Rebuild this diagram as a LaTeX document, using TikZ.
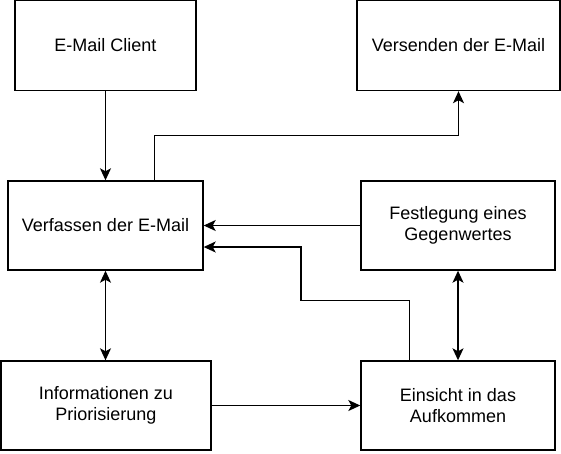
\documentclass[tikz,border=0pt]{standalone}
\usepackage{fontspec}
\setmainfont{Liberation Sans}
\usetikzlibrary{arrows.meta}

\begin{document}
\begin{tikzpicture}[x=1pt, y=-1pt,
		box/.style = {draw, line width = 1.4pt, align = center, inner sep = 0pt,
			font = \fontsize{18}{21.6}\selectfont},
		link/.style = {line width = 1.4pt, -{Stealth[length = 12pt, width = 11pt, inset = 3pt]}},
		dlink/.style = {line width = 1.4pt,
			{Stealth[length = 12pt, width = 11pt, inset = 3pt]}-{Stealth[length = 12pt, width = 11pt, inset = 3pt]}}]
	\useasboundingbox (0,0) rectangle (561,453);

	\begin{scope}
		\node [box, minimum width = 181pt, minimum height = 90pt] (client) at (105.5,45.5) {E-Mail Client};
		\node [box, minimum width = 203pt, minimum height = 90pt] (versenden) at (458.5,45.5) {Versenden der E-Mail};
		\node [box, minimum width = 195pt, minimum height = 89pt] (verfassen) at (105.5,225.5) {Verfassen der E-Mail};
		\node [box, minimum width = 194pt, minimum height = 89pt] (festlegung) at (458,225.5) {Festlegung eines\\Gegenwertes};
		\node [box, minimum width = 210pt, minimum height = 89pt] (info) at (105.8,405.5) {Informationen zu\\Priorisierung};
		\node [box, minimum width = 194pt, minimum height = 89pt] (einsicht) at (458,405.5) {Einsicht in das\\Aufkommen};
	\end{scope}

	\begin{scope}
		\coordinate (bend) at (301,300.5);
		\draw [link] (client) -- (verfassen);
		\draw [link] ([xshift = 49pt]verfassen.north) -- ++(0,-45) -| (versenden.south);
		\draw [link] (festlegung.west) -- (verfassen.east);
		\draw [link] ([xshift = -48.5pt]einsicht.north) |- (bend) |- ([yshift = -21.5pt]verfassen.east);
		\draw [link] (info.east) -- (einsicht.west);
	\end{scope}

	\begin{scope}
		\draw [dlink] (verfassen.south) -- (verfassen.south |- info.north);
		\draw [dlink] (festlegung.south) -- (einsicht.north);
	\end{scope}
\end{tikzpicture}
\end{document}
